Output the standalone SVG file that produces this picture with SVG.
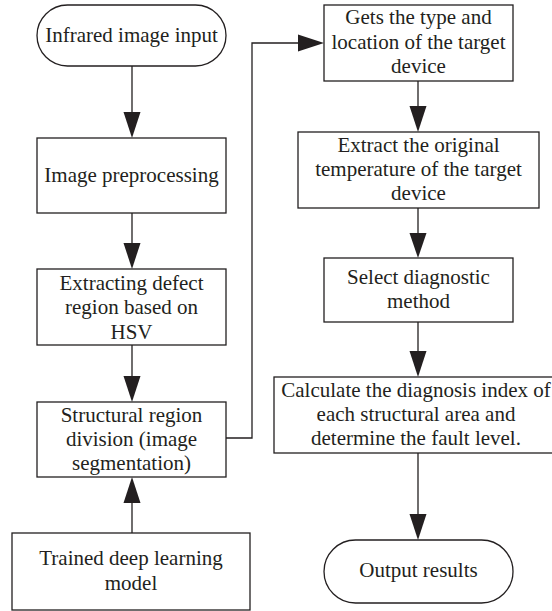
<svg xmlns="http://www.w3.org/2000/svg" width="552" height="611" viewBox="0 0 552 611">
<style>
.b{fill:#fff;stroke:#231f20;stroke-width:1.3}
.t{font-family:'Liberation Serif','Times New Roman',serif;font-size:21px;fill:#231f20;text-anchor:middle}
.c{fill:none;stroke:#231f20;stroke-width:1.3}
.h{fill:#231f20}
</style>
<rect width="552" height="611" fill="#fff"/>
<g id="connectors">
<line class="c" x1="132" y1="66" x2="132" y2="114"/>
<polygon class="h" points="123.5,112 140.5,112 132,138"/>
<line class="c" x1="132" y1="213" x2="132" y2="245"/>
<polygon class="h" points="123.5,243 140.5,243 132,269"/>
<line class="c" x1="132" y1="345" x2="132" y2="378"/>
<polygon class="h" points="123.5,376 140.5,376 132,402"/>
<line class="c" x1="132" y1="533" x2="132" y2="502"/>
<polygon class="h" points="123.5,503 140.5,503 132,477"/>
<polyline class="c" points="226,438 252,438 252,43 300,43"/>
<polygon class="h" points="298,34.5 298,51.5 324,43"/>
<line class="c" x1="418" y1="81" x2="418" y2="108"/>
<polygon class="h" points="409.5,106 426.5,106 418,132"/>
<line class="c" x1="418" y1="208" x2="418" y2="235"/>
<polygon class="h" points="409.5,233 426.5,233 418,258"/>
<line class="c" x1="418" y1="322" x2="418" y2="353"/>
<polygon class="h" points="409.5,351 426.5,351 418,377"/>
<line class="c" x1="418" y1="453" x2="418" y2="516"/>
<polygon class="h" points="409.5,514 426.5,514 418,540"/>
</g>
<g id="n1"><rect class="b" x="37" y="5" width="189" height="61" rx="30.5"/><text class="t" x="131.5" y="42">Infrared image input</text></g>
<g id="n2"><rect class="b" x="37" y="138" width="189" height="75"/><text class="t" x="131.5" y="182">Image preprocessing</text></g>
<g id="n3"><rect class="b" x="37" y="269" width="189" height="76"/><text class="t" x="131.5" y="290">Extracting defect</text><text class="t" x="131.5" y="314">region based on</text><text class="t" x="131.5" y="339">HSV</text></g>
<g id="n4"><rect class="b" x="37" y="402" width="189" height="75"/><text class="t" x="131.5" y="422">Structural region</text><text class="t" x="131.5" y="446">division (image</text><text class="t" x="131.5" y="470">segmentation)</text></g>
<g id="n5"><rect class="b" x="12" y="533" width="238" height="77"/><text class="t" x="131" y="565">Trained deep learning</text><text class="t" x="131" y="590">model</text></g>
<g id="n6"><rect class="b" x="324" y="5" width="189" height="76"/><text class="t" x="418.5" y="24">Gets the type and</text><text class="t" x="418.5" y="49">location of the target</text><text class="t" x="418.5" y="73">device</text></g>
<g id="n7"><rect class="b" x="298" y="132" width="241" height="76"/><text class="t" x="418.5" y="152">Extract the original</text><text class="t" x="418.5" y="176">temperature of the target</text><text class="t" x="418.5" y="200">device</text></g>
<g id="n8"><rect class="b" x="324" y="258" width="189" height="64"/><text class="t" x="418.5" y="284">Select diagnostic</text><text class="t" x="418.5" y="308">method</text></g>
<g id="n9"><rect class="b" x="274" y="377" width="282" height="76"/><text class="t" x="416" y="397">Calculate the diagnosis index of</text><text class="t" x="416" y="421">each structural area and</text><text class="t" x="416" y="445">determine the fault level.</text></g>
<g id="n10"><rect class="b" x="324" y="540" width="189" height="63" rx="31.5"/><text class="t" x="418.5" y="577">Output results</text></g>
</svg>
